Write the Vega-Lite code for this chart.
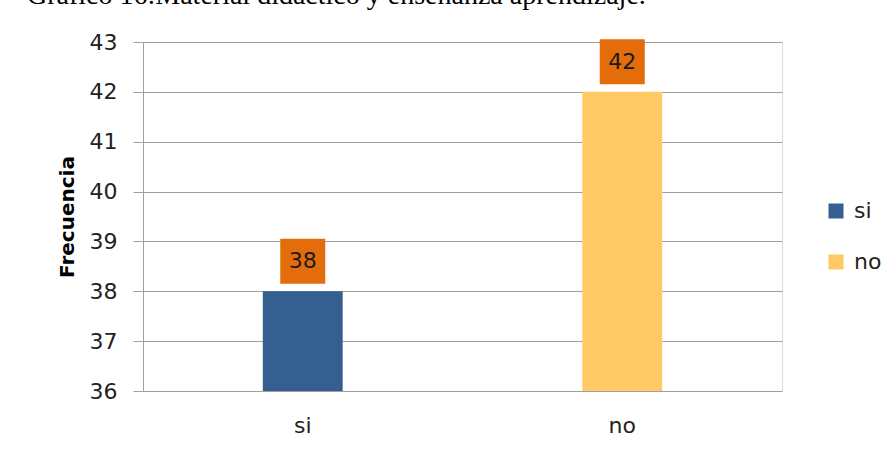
{
  "$schema": "https://vega.github.io/schema/vega-lite/v6.json",
  "width": 639,
  "height": 349,
  "autosize": {"type": "none"},
  "padding": {"left": 143, "top": 42, "right": 114, "bottom": 65},
  "background": "white",
  "title": {
    "text": "Gráfico 16:Material didáctico y  enseñanza aprendizaje.",
    "font": "Liberation Serif",
    "fontSize": 28,
    "fontWeight": "normal",
    "color": "#000000",
    "anchor": "start",
    "frame": "group",
    "baseline": "alphabetic",
    "offset": 5,
    "dy": 6,
    "dx": -116
  },
  "data": {
    "values": [
      {"respuesta": "si", "frecuencia": 38},
      {"respuesta": "no", "frecuencia": 42}
    ]
  },
  "encoding": {
    "x": {
      "field": "respuesta",
      "type": "nominal",
      "sort": ["si", "no"],
      "scale": {"paddingInner": 0.75, "paddingOuter": 0.375},
      "axis": {
        "title": null,
        "labelAngle": 0,
        "labelFont": "DejaVu Sans",
        "labelFontSize": 22,
        "labelColor": "#222222",
        "labelPadding": 24,
        "domain": false,
        "ticks": false,
        "grid": false
      }
    },
    "y": {
      "field": "frecuencia",
      "type": "quantitative",
      "scale": {"domain": [36, 43], "nice": false, "zero": false},
      "axis": {
        "title": "Frecuencia",
        "titleFont": "DejaVu Sans",
        "titleFontSize": 20,
        "titleFontWeight": "bold",
        "titleColor": "#000000",
        "titlePadding": 12,
        "values": [36, 37, 38, 39, 40, 41, 42, 43],
        "labelFont": "DejaVu Sans",
        "labelFontSize": 22,
        "labelColor": "#222222",
        "labelPadding": 16,
        "tickSize": 10,
        "tickColor": "#A0A0A0",
        "domainColor": "#A0A0A0",
        "gridColor": "#A0A0A0",
        "grid": true
      }
    }
  },
  "layer": [
    {
      "mark": {"type": "bar", "clip": true},
      "encoding": {
        "y2": {"datum": 36},
        "color": {
          "field": "respuesta",
          "type": "nominal",
          "sort": ["si", "no"],
          "scale": {"domain": ["si", "no"], "range": ["#365F91", "#FFC966"]},
          "legend": {
            "title": null,
            "orient": "none",
            "legendX": 682,
            "legendY": 158,
            "symbolType": "square",
            "symbolSize": 225,
            "symbolStrokeWidth": 0,
            "labelFont": "DejaVu Sans",
            "labelFontSize": 22,
            "labelColor": "#222222",
            "labelOffset": 7,
            "rowPadding": 29,
            "padding": 0
          }
        }
      }
    },
    {
      "mark": {"type": "point", "shape": "square", "size": 2025, "filled": true, "opacity": 1, "color": "#E46C0A", "yOffset": -30}
    },
    {
      "mark": {"type": "text", "font": "DejaVu Sans", "fontSize": 22, "color": "#1A1A1A", "baseline": "middle", "yOffset": -30},
      "encoding": {"text": {"field": "frecuencia", "type": "quantitative"}}
    }
  ]
}
